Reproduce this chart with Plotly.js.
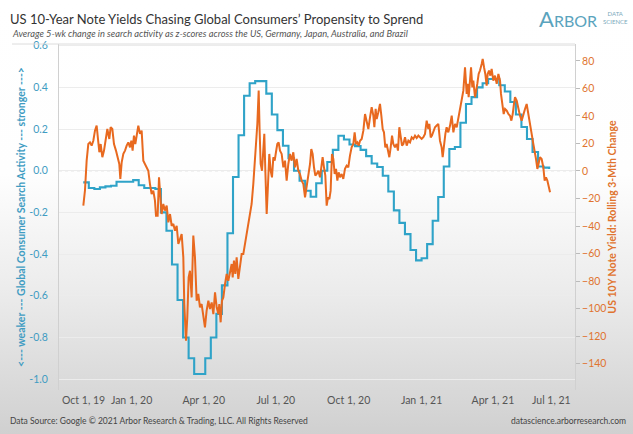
<!DOCTYPE html>
<html><head><meta charset="utf-8">
<script src="https://cdn.plot.ly/plotly-3.0.1.min.js"></script>
<style>
html,body{margin:0;padding:0;}
body{width:633px;height:434px;overflow:hidden;background:linear-gradient(to bottom,#ffffff 0%,#fefefe 40%,#ebebeb 68%,#d0d0d0 100%);}
#chart{width:633px;height:434px;}
</style></head><body><div id="chart"></div>
<script>
// ---- Data ----
// Global consumer search activity (z-score, weekly)
const searchDates = [
"2019-11-01","2019-11-08","2019-11-15","2019-11-22","2019-11-29","2019-12-06","2019-12-13","2019-12-20","2019-12-27",
"2020-01-03","2020-01-10","2020-01-17","2020-01-24","2020-01-31","2020-02-07","2020-02-14","2020-02-21","2020-02-28",
"2020-03-06","2020-03-13","2020-03-20","2020-03-27","2020-04-03","2020-04-10","2020-04-17","2020-04-24",
"2020-05-01","2020-05-08","2020-05-15","2020-05-22","2020-05-29","2020-06-05","2020-06-12","2020-06-19","2020-06-26",
"2020-07-03","2020-07-10","2020-07-17","2020-07-24","2020-07-31","2020-08-07","2020-08-14","2020-08-21","2020-08-28",
"2020-09-04","2020-09-11","2020-09-18","2020-09-25","2020-10-02","2020-10-09","2020-10-16","2020-10-23","2020-10-30",
"2020-11-06","2020-11-13","2020-11-20","2020-11-27","2020-12-04","2020-12-11","2020-12-18","2020-12-25",
"2021-01-01","2021-01-08","2021-01-15","2021-01-22","2021-01-29","2021-02-05","2021-02-12","2021-02-19","2021-02-26",
"2021-03-05","2021-03-12","2021-03-19","2021-03-26","2021-04-02","2021-04-09","2021-04-16","2021-04-23","2021-04-30",
"2021-05-07","2021-05-14","2021-05-21","2021-05-28","2021-06-04","2021-06-11"];
const searchZ = [
-0.056,-0.083,-0.088,-0.08,-0.075,-0.072,-0.053,-0.053,-0.053,
-0.045,-0.07,-0.083,-0.083,-0.088,-0.20,-0.288,-0.45,-0.62,
-0.80,-0.90,-0.975,-0.975,-0.90,-0.80,-0.687,-0.55,
-0.30,-0.03,0.17,0.36,0.42,0.43,0.43,0.37,0.27,
0.195,0.12,0.06,0.0,-0.048,-0.096,-0.125,-0.06,0.0,
0.042,0.10,0.168,0.15,0.126,0.118,0.10,0.07,0.035,
0.018,-0.024,-0.10,-0.19,-0.25,-0.304,-0.38,-0.43,
-0.42,-0.352,-0.24,-0.126,0.02,0.104,0.114,0.23,0.32,
0.353,0.40,0.42,0.44,0.44,0.41,0.38,0.33,0.27,
0.21,0.152,0.09,0.02,0.015,0.008];

// US 10Y note yield, rolling 3-month change (bp); day = days after 2020-01-01
const yieldDay = [
-60.9,-58.8,-56.7,-54.6,-52.5,-50.4,-48.3,-46.2,-44.1,-42.8,-40.7,-39.0,-36.9,-34.8,-32.3,-30.6,-28.1,-26.4,-24.3,-22.2,
-19.7,-17.6,-15.5,-14.2,-12.5,-10.4,-8.3,-6.2,-4.1,-2.0,-0.3,1.3,3.0,4.7,6.4,8.5,10.6,12.7,14.8,18.2,
21.1,23.2,25.3,27.4,29.5,30.8,32.9,34.6,35.8,37.9,40.0,42.1,44.3,46.4,48.5,50.6,52.7,54.8,56.9,59.0,
61.1,63.2,65.3,66.5,68.7,70.3,72.0,73.7,
75.8,77.9,80.0,82.1,84.2,86.3,88.4,90.5,92.6,94.7,96.9,99.0,101.1,103.2,105.3,107.4,109.5,110.7,112.4,114.1,
115.8,117.9,120.0,122.1,124.2,126.3,127.6,129.2,130.9,132.6,134.7,136.8,138.9,141.0,143.1,145.2,147.3,149.4,151.5,153.6,
155.7,157.0,158.7,160.4,161.6,162.9,164.6,166.3,167.5,168.8,170.5,172.2,173.8,175.5,177.2,178.9,180.6,182.2,183.9,185.6,
187.3,189.4,191.5,193.6,195.7,197.8,199.9,202.0,204.1,206.2,208.3,210.4,212.5,214.6,216.8,218.9,221.0,223.1,225.2,226.8,
228.5,230.2,231.9,233.6,235.7,
237.8,239.9,241.1,242.8,244.5,246.2,247.9,249.6,251.2,252.9,254.6,256.3,258.0,259.7,261.3,263.0,265.1,267.2,269.3,271.4,
273.5,275.6,277.7,279.8,281.5,283.2,284.9,286.6,288.3,290.4,292.5,294.6,296.7,298.8,300.9,303.0,305.1,306.4,308.0,309.3,
311.4,313.5,315.2,316.9,318.5,320.2,321.9,323.6,325.3,327.0,328.7,330.3,332.4,334.5,336.2,337.9,339.6,341.3,343.0,345.1,
347.2,349.3,351.4,353.5,355.6,357.7,359.8,361.9,364.0,366.1,368.2,370.3,372.4,374.5,375.8,377.5,379.1,380.8,382.9,385.0,
387.1,389.2,391.3,392.6,394.3,396.0,397.6,399.7,
401.9,404.0,406.1,408.2,410.3,412.4,414.5,416.6,418.7,420.8,422.9,424.1,425.4,427.1,428.4,430.0,431.3,433.4,434.7,436.3,
438.0,439.7,441.8,443.1,444.8,446.4,448.1,449.4,451.1,452.8,454.4,456.5,458.6,460.8,462.9,465.0,466.2,467.9,469.6,471.3,
473.4,475.5,477.6,479.3,481.0,482.6,483.9,486.0,488.1,490.2,492.3,494.4,496.5,498.6,500.7,502.8,504.9,507.0,509.1,510.4,
512.1,513.3,515.4,517.5,519.6,521.3,523.0,524.7,526.4,528.1];
const yieldChg = [
-25.2,-14,7.5,19.6,20.8,18.4,22,29.3,33,27,13.6,19.6,10,14.8,24.5,30.5,23.3,31.8,30.5,19.6,
14.8,8.7,5.1,-5.8,6.3,12.4,14.8,18.4,20.8,17.2,22,14.8,25.7,19.6,24.5,33,27,29.3,7.5,3.9,
0.2,-9.5,-16.7,-14.3,-21.6,-32.5,-32.5,-4.6,-17.9,-31.3,-24,-28.8,-25.2,-37.3,-31.3,-39.8,-38.5,-43.4,-39.8,-53,
-49.5,-45.8,-62.8,-96.7,-123.4,-106.4,-77.3,-72.5,
-91.9,-47,-62.8,-94.3,-89.4,-99.1,-96.7,-104,-113.7,-101.6,-94.3,-100.4,-95.5,-104,-88.2,-99.1,-104,-96.7,-110,-94.3,
-91.9,-82.2,-74.9,-79.8,-72.5,-67.6,-77.3,-65.2,-74.9,-62.8,-78.5,-67.6,-60.4,-60.4,-53,-45.8,-38.5,-31.3,-24,-9.5,
5.1,19.6,34.2,58.4,29.3,5.1,0.2,12.4,27,0.2,-31.3,-9.5,12.4,0.2,-4.6,10,7.5,13.6,19.6,20.8,
14.8,12.4,2.7,7.5,-7,5.1,12.4,7.5,13.6,2.7,8.7,0.2,-2.2,-7,-9.5,-19.1,-11.9,-4.6,5.1,16,
12.4,2.7,-3.4,-2.2,0.2,
-4.6,6.3,10,2.7,-3.4,-25.2,-19.1,-20.4,-14.3,12.4,8.7,-2.2,1.5,-7,-1,-4.6,-2.2,-5.8,1.5,3.9,
2.7,11.2,17.2,19.6,28.1,19.6,20.8,18.4,22,23.3,29.3,41.4,36.6,30.5,39,46.3,40.2,31.8,45.1,37.8,
42.7,48.7,40.2,30.5,28.1,17.2,19.6,14.8,10,17.2,25.7,19.6,17.2,19.6,14.8,31.8,25.7,18.4,19.6,24.5,
18.4,22,20.8,24.5,23.3,25.7,24,25.7,24.5,23.3,24.5,27,36.6,30.5,34.2,24.5,25.7,29.3,31.8,33,
34.2,22,17.2,10,19.6,27,31.8,28.1,
33,40.2,28.1,34.2,31.8,37.8,43.9,49.9,58.4,75.4,56,63.3,53.6,65.7,75.4,60.8,65.7,53.6,57.2,63.3,
70.5,73,77.8,81.4,75.4,70.5,62,70.5,73,69.3,74.2,65.7,69.3,63.3,70.5,65.7,56,49.9,41.4,45.1,
43.9,41.4,40.2,36.6,41.4,48.7,53.6,51.1,45.1,40.2,36.6,41.4,45.1,48.7,40.2,34.2,27,19.6,13.6,8.7,
1.5,5.1,10,8.7,2.7,-7,-4.6,-7,-10.7,-15.5];

// Axis labels
const xTickDates = ["2019-10-01","2020-01-01","2020-04-01","2020-07-01","2020-10-01","2021-01-01","2021-04-01","2021-07-01"];
const xTickText  = ["Oct 1, 19","Jan 1, 20","Apr 1, 20","Jul 1, 20","Oct 1, 20","Jan 1, 21","Apr 1, 21","Jul 1, 21"];
const leftTicks  = [-1.0,-0.8,-0.6,-0.4,-0.2,0.0,0.2,0.4,0.6];
const rightTicks = [-140,-120,-100,-80,-60,-40,-20,0,20,40,60,80];

// ---- build ----
const base = Date.UTC(2020,0,1);
function dayToDate(d){ return new Date(base + d*86400000).toISOString().slice(0,16).replace('T',' '); }
const yieldDates = yieldDay.map(dayToDate);

const BLUE = '#2fa3c8', ORANGE = '#e8691f';
const BLUE_T = '#3f9cc2', ORANGE_T = '#e0742f';
const FONT = 'Lato, "Open Sans", sans-serif';

// pixel helpers for paper coordinates (plot area x 59..575, y 44..390)
const L=59,R=575,T=44,B=390;
const px = v => (v-L)/(R-L);
const py = v => (B-v)/(B-T);

const traces = [
 {x: searchDates, y: searchZ, type:'scatter', mode:'lines', line:{color:BLUE, width:2.1, shape:'hv'}, yaxis:'y', hoverinfo:'skip'},
 {x: yieldDates, y: yieldChg, type:'scatter', mode:'lines', line:{color:ORANGE, width:2}, yaxis:'y2', hoverinfo:'skip'}
];

const midIdx = [1,2,3,4,5,6];
const layout = {
 width:633, height:434,
 margin:{l:L, r:633-R, t:T, b:434-B, pad:0},
 paper_bgcolor:'rgba(0,0,0,0)', plot_bgcolor:'rgba(0,0,0,0)',
 showlegend:false,
 font:{family:FONT, color:'#555'},
 title:{text:'US 10-Year Note Yields Chasing Global Consumers’ Propensity to Sprend',
   font:{family:FONT, size:13, color:'#333'}, xref:'container', yref:'container',
   x:10/633, xanchor:'left', y:1-19/434, yanchor:'middle'},
 xaxis:{type:'date', range:[dayToDate(-91.6), dayToDate(559.6)],
   tickvals: midIdx.map(i=>xTickDates[i]), ticktext: midIdx.map(i=>xTickText[i]),
   tickfont:{family:FONT, size:10.5, color:'#555'}, ticks:'', 
   showgrid:false, zeroline:false, showline:true, linecolor:'#d8d8d8', linewidth:1},
 yaxis:{range:[-1.052,0.608], tickvals:leftTicks, ticktext:leftTicks.map(v=>v.toFixed(1)),
   tickfont:{family:FONT, size:10.5, color:BLUE_T}, ticks:'outside', ticklen:8, tickcolor:'rgba(0,0,0,0)',
   showgrid:true, gridcolor:'#ececec', gridwidth:1, zeroline:false, showline:true, linecolor:'#d0d0d0',
   title:{text:'<b><--- weaker --- Global Consumer Search Activity --- stronger ---></b>',
     font:{family:FONT, size:10.5, color:BLUE_T}, standoff:1}},
 yaxis2:{overlaying:'y', side:'right', range:[-159.2,92.3], tickvals:rightTicks,
   tickfont:{family:FONT, size:10.5, color:ORANGE_T}, ticks:'outside', ticklen:4, tickcolor:'#bbb',
   showgrid:false, zeroline:false, showline:true, linecolor:'#d0d0d0',
   title:{text:'<b>US 10Y Note Yield: Rolling 3-Mth Change</b>', font:{family:FONT, size:10.5, color:ORANGE_T}, standoff:1}},
 shapes:[
   {type:'line', xref:'paper', yref:'y', x0:0, x1:1, y0:0, y1:0, line:{color:'#c8c8c8', width:1, dash:'dot'}, layer:'below'},
   {type:'line', xref:'paper', yref:'paper', x0:px(12), x1:1, y0:1, y1:1, line:{color:'#dcdcdc', width:1}}
 ],
 annotations:[
   {xref:'paper', yref:'paper', x:px(10), y:py(33), xanchor:'left', yanchor:'middle', showarrow:false,
    text:'<i>Average 5-wk change in search activity as z-scores across the US, Germany, Japan, Australia, and Brazil</i>',
    font:{family:FONT, size:9.3, color:'#555'}},
   {xref:'paper', yref:'paper', x:px(60), y:py(400), xanchor:'left', yanchor:'middle', showarrow:false,
    text:xTickText[0], font:{family:FONT, size:10.5, color:'#555'}},
   {xref:'paper', yref:'paper', x:px(573), y:py(400), xanchor:'right', yanchor:'middle', showarrow:false,
    text:xTickText[7], font:{family:FONT, size:10.5, color:'#555'}},
   {xref:'paper', yref:'paper', x:px(8), y:py(421), xanchor:'left', yanchor:'middle', showarrow:false,
    text:'Data Source: Google © 2021 Arbor Research & Trading, LLC. All Rights Reserved', font:{family:FONT, size:8.5, color:'#444'}},
   {xref:'paper', yref:'paper', x:px(628), y:py(421), xanchor:'right', yanchor:'middle', showarrow:false,
    text:'datascience.arborresearch.com', font:{family:FONT, size:8.5, color:'#444'}},
   {xref:'paper', yref:'paper', x:px(599), y:py(19), xanchor:'right', yanchor:'middle', showarrow:false,
    text:'<span style="font-size:22px">A</span>RBOR', font:{family:FONT, size:16, color:'#5aa3bd'}},
   {xref:'paper', yref:'paper', x:px(601), y:py(18), xanchor:'left', yanchor:'middle', showarrow:false,
    text:'DATA<br>SCIENCE', font:{family:FONT, size:6, color:'#7aa9bb'}}
 ]
};

Plotly.newPlot('chart', traces, layout, {staticPlot:true, displayModeBar:false});
</script></body></html>
